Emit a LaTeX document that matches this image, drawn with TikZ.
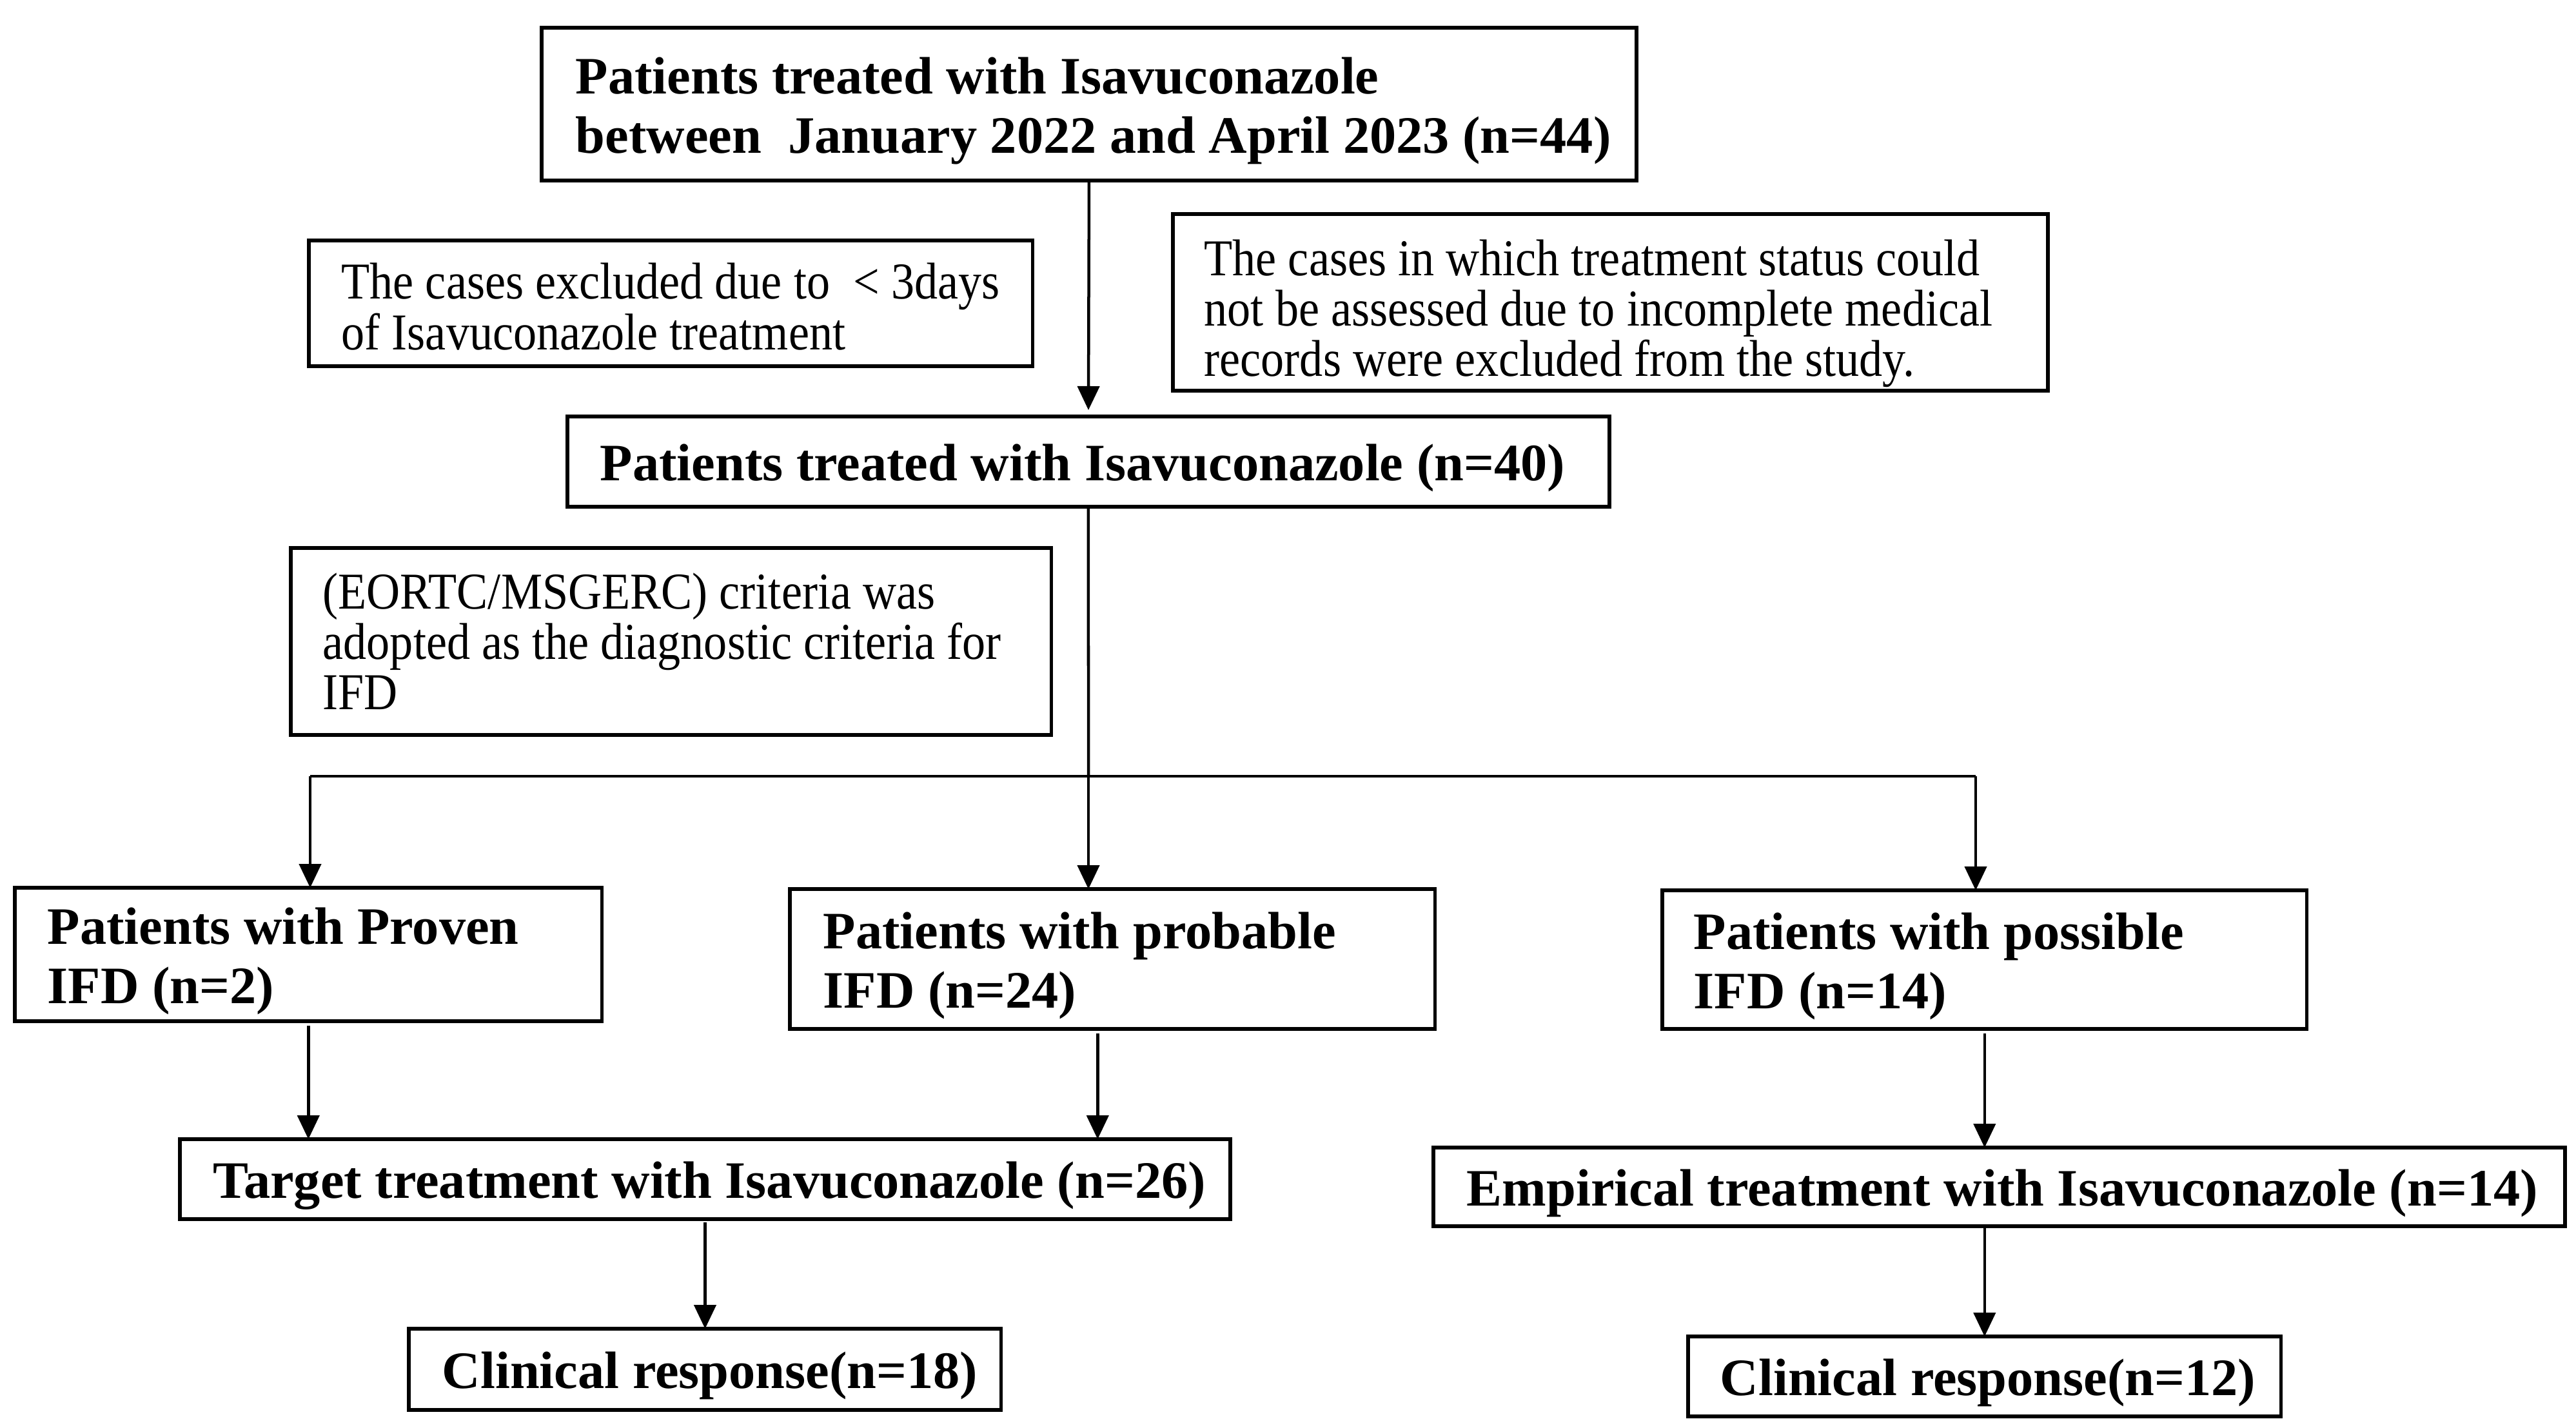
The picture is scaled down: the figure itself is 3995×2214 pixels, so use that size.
\documentclass[tikz,border=0pt]{standalone}
\usepackage{fontspec}
\setmainfont{Liberation Serif}
\newfontfamily\regfont{Liberation Serif}[FakeStretch=0.90]
\newfontfamily\boldfont{Liberation Serif}[FakeStretch=1.01]
\newcommand\myregtext{\regfont\fontsize{22.8}{22.2}\selectfont\lineskiplimit -100pt\relax}
\newcommand\myboldtext{\boldfont\bfseries\fontsize{23.2}{26.2}\selectfont}
\usetikzlibrary{arrows.meta}
\begin{document}
\begin{tikzpicture}[x=0.01cm,y=-0.01cm,
  box/.style={draw, line width=0.055cm, inner sep=0, outer sep=0, anchor=north west},
  btxt/.style={anchor=west, inner sep=0, align=left, font={\myboldtext}, yshift=-0.1cm},
  rtxt/.style={anchor=west, inner sep=0, align=left, font={\myregtext}},
  arr/.style={-{Triangle[length=0.37cm,width=0.34cm]}, line width=0.045cm},
  ln/.style={line width=0.045cm}]
\useasboundingbox (0,0) rectangle (3995,2214);
\fill[white] (0,0) rectangle (3995,2214);

% boxes
\node[box, minimum width=16.97cm, minimum height=2.37cm] (n44) at (840,43) {};
\node[box, minimum width=11.22cm, minimum height=1.95cm] (exL) at (479,373) {};
\node[box, minimum width=13.56cm, minimum height=2.74cm] (exR) at (1819,332) {};
\node[box, minimum width=16.15cm, minimum height=1.40cm] (n40) at (880,646) {};
\node[box, minimum width=11.79cm, minimum height=2.90cm] (crit) at (451,850) {};
\node[box, minimum width=9.10cm, minimum height=2.07cm] (proven) at (23,1377) {};
\node[box, minimum width=10.00cm, minimum height=2.17cm] (probable) at (1225,1379) {};
\node[box, minimum width=9.99cm, minimum height=2.15cm] (possible) at (2578,1381) {};
\node[box, minimum width=16.28cm, minimum height=1.24cm] (target) at (279,1767) {};
\node[box, minimum width=17.54cm, minimum height=1.22cm] (empir) at (2223,1780) {};
\node[box, minimum width=9.18cm, minimum height=1.26cm] (clinA) at (634,2061) {};
\node[box, minimum width=9.19cm, minimum height=1.24cm] (clinB) at (2618,2073) {};

% texts
\node[btxt] (n44t) at ([xshift=0.52cm]n44.west)
  {Patients treated with Isavuconazole\\between\ \ January 2022 and April 2023 (n=44)};
\node[rtxt] (exLt) at ([xshift=0.50cm,yshift=-0.05cm]exL.west)
  {The cases excluded due to\ \ < 3days\\of Isavuconazole treatment};
\node[rtxt] (exRt) at ([xshift=0.48cm,yshift=-0.17cm]exR.west)
  {The cases in which treatment status could\\not be assessed due to incomplete medical\\records were excluded from the study.};
\node[btxt] (n40t) at ([xshift=0.50cm]n40.west)
  {Patients treated with Isavuconazole (n=40)};
\node[rtxt] (critt) at ([xshift=0.49cm]crit.west)
  {(EORTC/MSGERC) criteria was\\adopted as the diagnostic criteria for\\IFD};
\node[btxt] (provent) at ([xshift=0.50cm]proven.west)
  {Patients with Proven\\IFD (n=2)};
\node[btxt] (probablet) at ([xshift=0.51cm]probable.west)
  {Patients with probable\\IFD (n=24)};
\node[btxt] (possiblet) at ([xshift=0.48cm]possible.west)
  {Patients with possible\\IFD (n=14)};
\node[btxt] (targett) at ([xshift=0.51cm]target.west)
  {Target treatment with Isavuconazole (n=26)};
\node[btxt] (empirt) at ([xshift=0.51cm]empir.west)
  {Empirical treatment with Isavuconazole (n=14)};
\node[btxt] (clinAt) at ([xshift=0.51cm]clinA.west)
  {Clinical response(n=18)};
\node[btxt] (clinBt) at ([xshift=0.49cm]clinB.west)
  {Clinical response(n=12)};

% connectors
\draw[arr, shorten >=0.1cm] (n44.south) -- (n40.north);
\coordinate (hub) at (1688,1204);
\coordinate (lj) at (481,1204);
\coordinate (rj) at (3064,1204);
\draw[ln] (n40.south) -- (hub);
\draw[ln] (lj) -- (rj);
\draw[arr] (hub) -- (hub |- probable.north);
\draw[arr] (lj) -- (lj |- proven.north);
\draw[arr] (rj) -- (rj |- possible.north);
\draw[arr] ([yshift=-0.07cm]proven.south) -- (proven.south |- target.north);
\draw[arr] ([xshift=-0.23cm,yshift=-0.07cm]probable.south) coordinate (pb) -- (pb |- target.north);
\draw[arr] ([yshift=-0.05cm]target.south) -- (target.south |- clinA.north);
\draw[arr] ([yshift=-0.07cm]possible.south) -- (possible.south |- empir.north);
\draw[arr] (clinB.north |- empir.south) -- (clinB.north);
\end{tikzpicture}
\end{document}
